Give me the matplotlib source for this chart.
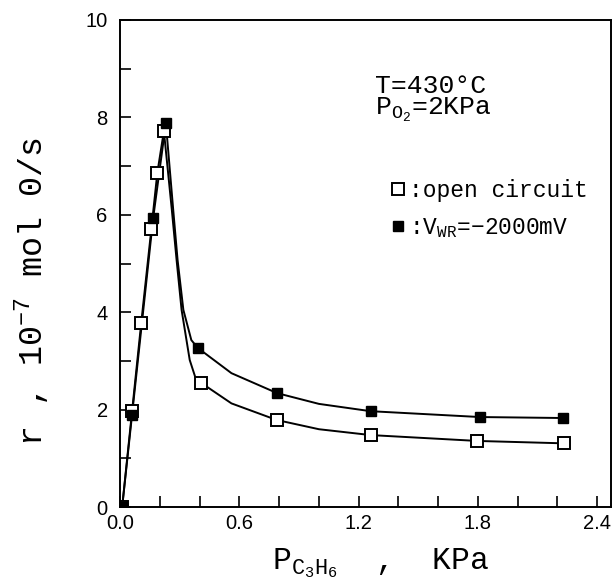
import numpy as np
import matplotlib
matplotlib.use('Agg')
import matplotlib.pyplot as plt
from matplotlib.ticker import MultipleLocator

plt.rcParams['mathtext.fontset'] = 'custom'
plt.rcParams['mathtext.rm'] = 'Liberation Mono'
plt.rcParams['mathtext.it'] = 'Liberation Mono'

# measured points
open_x = [0.01, 0.06, 0.106, 0.157, 0.187, 0.22, 0.408, 0.787, 1.26, 1.795, 2.234]
open_y = [0.0, 1.97, 3.78, 5.71, 6.86, 7.72, 2.55, 1.79, 1.48, 1.36, 1.31]
filled_x = [0.01, 0.06, 0.166, 0.23, 0.39, 0.79, 1.26, 1.81, 2.23]
filled_y = [0.0, 1.9, 5.93, 7.88, 3.27, 2.34, 1.97, 1.85, 1.83]

# fitted curves
open_curve_x = [0.01, 0.06, 0.106, 0.157, 0.187, 0.22, 0.26, 0.284, 0.309, 0.35, 0.377, 0.408, 0.56, 0.787, 1.0, 1.26, 1.795, 2.234]
open_curve_y = [0.0, 1.97, 3.78, 5.71, 6.86, 7.72, 6.1, 5.07, 4.05, 3.02, 2.68, 2.55, 2.13, 1.79, 1.6, 1.48, 1.36, 1.31]
filled_curve_x = [0.01, 0.06, 0.166, 0.23, 0.267, 0.289, 0.318, 0.358, 0.39, 0.56, 0.79, 1.0, 1.26, 1.81, 2.23]
filled_curve_y = [0.0, 1.9, 5.93, 7.88, 6.1, 5.07, 4.05, 3.43, 3.27, 2.75, 2.34, 2.12, 1.97, 1.85, 1.83]

x_ticks = [0.0, 0.6, 1.2, 1.8, 2.4]
x_ticklabels = ['0.0', '0.6', '1.2', '1.8', '2.4']

fig = plt.figure(figsize=(6.13, 5.85), dpi=100)
ax = fig.add_axes([0.196, 0.133, 0.801, 0.833])

ax.plot(open_curve_x, open_curve_y, color='black', lw=1.4)
ax.plot(filled_curve_x, filled_curve_y, color='black', lw=1.4)
ax.plot(open_x, open_y, 's', ms=8, mfc='white', mec='black', mew=1.4, label=':open circuit')
ax.plot(filled_x, filled_y, 's', ms=6.5, mfc='black', mec='black', label=r':V$_{\mathrm{WR}}$=−2000mV')

ax.set_xlim(0, 2.47)
ax.set_ylim(0, 10)
ax.set_xticks(x_ticks)
ax.set_xticklabels(x_ticklabels)
ax.xaxis.set_minor_locator(MultipleLocator(0.2))
ax.yaxis.set_major_locator(MultipleLocator(2))
ax.yaxis.set_minor_locator(MultipleLocator(1))
ax.tick_params(which='both', direction='in', length=8, width=1.2, labelsize=14.5)
ax.tick_params(axis='x', pad=5)
ax.tick_params(axis='y', pad=9)
for lab in ax.get_xticklabels() + ax.get_yticklabels():
    lab.set_family('Liberation Sans')
for s in ax.spines.values():
    s.set_linewidth(1.4)

ax.text(0.52, 0.865, 'T=430°C', transform=ax.transAxes, fontsize=19, family='Liberation Mono', va='center')
ax.text(0.52, 0.815, r'P$_{\mathrm{O_2}}$=2KPa', transform=ax.transAxes, fontsize=19, family='Liberation Mono', va='center')

ax.legend(loc='upper left', bbox_to_anchor=(0.5, 0.715), frameon=False,
          handletextpad=0.0, handlelength=1.0, labelspacing=0.6, prop={'family': 'Liberation Mono', 'size': 16.5})

fig.text(381 / 613, 1 - 569 / 585, r'P$_{\mathrm{C_3H_6}}$  ,  KPa', fontsize=22.5, family='Liberation Mono',
         ha='center', va='baseline')
fig.text(32 / 613, 1 - 292 / 585, r'r , 10$^{-7}$ mol 0/s', fontsize=24, family='Liberation Mono',
         rotation=90, ha='center', va='center')

fig.savefig('out.png', dpi=100)
